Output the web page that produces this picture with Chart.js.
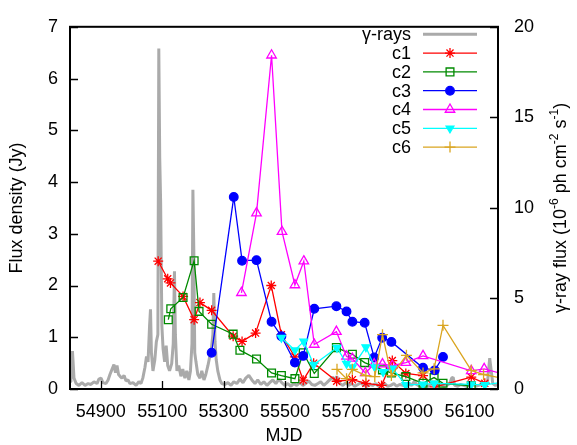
<!DOCTYPE html>
<html>
<head>
<meta charset="utf-8">
<script src="https://cdn.jsdelivr.net/npm/chart.js@4.4.0/dist/chart.umd.min.js"></script>
<style>
    html, body { margin: 0; padding: 0; background: #fff; }
    #wrap { width: 577px; height: 445px; }
</style>
</head>
<body>
<div id="wrap"><canvas id="lightCurve"></canvas></div>
<script>
// Fermi gamma-ray light curve, [MJD, flux in 1e-6 ph cm^-2 s^-1]
const gammaCurve = [
    [54800, 0.4], [54803, 0.5], [54808, 2.1], [54813, 0.6], [54820, 0.3], [54829, 0.2],
    [54839, 0.35], [54849, 0.2], [54859, 0.3], [54868, 0.25], [54878, 0.4], [54888, 0.3],
    [54894, 0.55], [54901, 0.6], [54907, 0.35], [54917, 0.3], [54924, 0.5], [54930, 0.8],
    [54937, 1.1], [54943, 1.35], [54948, 0.9], [54953, 1.3], [54958, 0.8], [54963, 0.7],
    [54969, 0.6], [54976, 0.75], [54982, 0.45], [54989, 0.5], [54995, 0.3], [55005, 0.35],
    [55015, 0.2], [55024, 0.4], [55031, 0.3], [55037, 0.6], [55044, 1.2], [55049, 1.8],
    [55054, 1.5], [55059, 3.5], [55062, 4.4], [55065, 2.0], [55070, 1.0], [55076, 1.6],
    [55081, 2.6], [55086, 3.0], [55089, 18.8], [55092, 12.8], [55095, 10.3], [55099, 3.5],
    [55103, 2.2], [55108, 1.5], [55113, 2.4], [55118, 1.3], [55124, 1.0], [55131, 1.4],
    [55136, 2.5], [55140, 6.5], [55143, 3.0], [55148, 1.0], [55154, 1.3], [55161, 0.7],
    [55167, 1.1], [55174, 0.6], [55180, 1.0], [55187, 0.5], [55192, 1.0], [55197, 2.5],
    [55200, 11.0], [55203, 7.6], [55206, 2.0], [55210, 1.5], [55216, 0.8], [55223, 0.6],
    [55229, 1.0], [55236, 0.5], [55242, 0.8], [55249, 1.3], [55255, 1.8], [55260, 2.2],
    [55265, 3.0], [55268, 5.3], [55272, 2.6], [55276, 1.6], [55281, 1.0], [55288, 0.5],
    [55294, 0.3], [55304, 0.25], [55314, 0.35], [55324, 0.2], [55333, 0.4], [55343, 0.3],
    [55353, 0.55], [55363, 0.35], [55372, 0.6], [55382, 0.75], [55392, 0.5], [55402, 0.3],
    [55411, 0.5], [55421, 0.25], [55431, 0.4], [55441, 0.2], [55450, 0.35], [55460, 0.5],
    [55470, 0.3], [55480, 0.55], [55489, 0.35], [55499, 0.2], [55509, 0.3], [55519, 0.15],
    [55528, 0.3], [55538, 0.2], [55548, 0.35], [55558, 0.2], [55567, 0.3], [55577, 0.45],
    [55587, 0.25], [55597, 0.2], [55607, 0.3], [55616, 0.4], [55626, 0.2], [55636, 0.35],
    [55645, 0.5], [55655, 0.65], [55662, 0.5], [55668, 0.7], [55678, 0.3], [55688, 0.2],
    [55698, 0.35], [55707, 0.2], [55717, 0.3], [55727, 0.15], [55737, 0.25], [55746, 0.35],
    [55756, 0.2], [55766, 0.15], [55776, 0.25], [55785, 0.2], [55795, 0.3], [55805, 0.15],
    [55815, 0.2], [55824, 0.3], [55834, 0.15], [55844, 0.2], [55854, 0.3], [55863, 0.15],
    [55873, 0.25], [55883, 0.2], [55893, 0.15], [55902, 0.3], [55912, 0.2], [55922, 0.45],
    [55928, 0.25], [55938, 0.15], [55948, 0.25], [55958, 0.2], [55967, 0.15], [55977, 0.3],
    [55987, 0.2], [55997, 0.15], [56006, 0.25], [56016, 0.15], [56026, 0.2], [56036, 0.3],
    [56042, 0.6], [56047, 0.65], [56052, 0.2], [56062, 0.15], [56071, 0.25], [56081, 0.2],
    [56091, 0.15], [56101, 0.2], [56110, 0.3], [56120, 0.15], [56130, 0.2], [56140, 0.25],
    [56150, 0.2], [56159, 0.4], [56166, 1.7], [56171, 1.0], [56176, 0.3], [56185, 0.2],
    [56193, 0.25]
];

// VLBI component flux densities (Jy)
const c1Mjd  = [55087, 55118, 55127, 55168, 55204, 55223, 55261, 55331, 55360, 55404, 55455, 55488, 55532, 55559, 55593, 55668, 55719, 55763, 55814, 55849, 55893, 55949, 55987, 56106, 56150];
const c1Flux = [2.47, 2.13, 2.05, 1.79, 1.34, 1.67, 1.52, 1.02, 0.92, 1.08, 2.0, 1.05, 0.62, 0.17, 0.5, 0.15, 0.18, 0.11, 0.07, 0.55, 0.30, 0.26, 0.04, 0.23, 0.11];

const c2Mjd  = [55120, 55128, 55168, 55204, 55220, 55261, 55331, 55353, 55407, 55456, 55488, 55532, 55559, 55595, 55667, 55719, 55759, 55817, 55846, 55893, 55949, 55985, 56014, 56106];
const c2Flux = [1.34, 1.55, 1.77, 2.48, 1.50, 1.25, 1.06, 0.75, 0.58, 0.31, 0.26, 0.20, 0.70, 0.30, 0.80, 0.67, 0.51, 0.37, 0.31, 0.24, 0.11, 0.22, 0.11, 0.06];

const c3Mjd  = [55261, 55333, 55360, 55407, 55456, 55488, 55532, 55559, 55595, 55667, 55700, 55719, 55759, 55790, 55816, 55846, 55949, 55987, 56014];
const c3Flux = [0.70, 3.71, 2.48, 2.49, 1.30, 1.02, 0.51, 0.64, 1.55, 1.60, 1.50, 1.30, 1.28, 0.61, 0.99, 0.91, 0.41, 0.36, 0.62];

const c4Mjd  = [55358, 55407, 55456, 55490, 55532, 55561, 55595, 55667, 55700, 55719, 55761, 55790, 55817, 55849, 55893, 55949, 56106, 56148, 56215];
const c4Flux = [1.86, 3.40, 6.45, 3.04, 2.01, 2.47, 0.86, 1.11, 0.63, 0.59, 0.31, 0.48, 0.48, 0.45, 0.51, 0.64, 0.35, 0.39, 0.28];

const c5Mjd  = [55488, 55532, 55561, 55593, 55669, 55700, 55719, 55763, 55792, 55819, 55849, 55893, 55949, 55985, 56106, 56150, 56215];
const c5Flux = [0.99, 0.75, 0.92, 0.47, 0.80, 0.49, 0.42, 0.81, 0.42, 0.33, 0.40, 0.08, 0.09, 0.11, 0.09, 0.08, 0.14];

const c6Mjd  = [55669, 55700, 55719, 55763, 55792, 55817, 55846, 55895, 55949, 55985, 56014, 56106, 56146, 56215];
const c6Flux = [0.38, 0.20, 0.38, 0.26, 0.24, 1.05, 0.26, 0.65, 0.31, 0.39, 1.23, 0.36, 0.28, 0.20];

const mjdTicks = [54900, 55100, 55300, 55500, 55700, 55900, 56100];
const mjdRange = [54800, 56193];

const FONT = '"Liberation Sans", Arial, Helvetica, sans-serif';

function pairs(xs, ys) {
    return xs.map((x, i) => ({ x: x, y: ys[i] }));
}

function component(label, xs, ys, color, style) {
    return Object.assign({
        label: label,
        data: pairs(xs, ys),
        yAxisID: 'y',
        borderColor: color,
        backgroundColor: 'rgba(0,0,0,0)',
        pointBorderColor: color,
        borderWidth: 1.3,
        pointBorderWidth: 1.3,
        tension: 0,
        clip: 0
    }, style);
}

const datasets = [
    {
        label: 'γ-rays',
        data: gammaCurve.map(p => ({ x: p[0], y: p[1] })),
        yAxisID: 'y2',
        borderColor: '#aaaaaa',
        borderWidth: 3,
        borderJoinStyle: 'bevel',
        pointRadius: 0,
        tension: 0,
        clip: 0,
        order: 7
    },
    component('c1', c1Mjd, c1Flux, '#ff0000', { pointStyle: 'star', pointRadius: 5, order: 6 }),
    component('c2', c2Mjd, c2Flux, '#008a00', { pointStyle: 'rect', pointRadius: 5.5, order: 5 }),
    component('c3', c3Mjd, c3Flux, '#0000ff', { pointStyle: 'circle', pointRadius: 4.3, pointBackgroundColor: '#0000ff', order: 4 }),
    component('c4', c4Mjd, c4Flux, '#ff00ff', { pointStyle: 'triangle', pointRadius: 5.5, order: 3 }),
    component('c5', c5Mjd, c5Flux, '#00ffff', { pointStyle: 'triangle', pointRotation: 180, pointRadius: 4.5, pointBackgroundColor: '#00ffff', order: 2 }),
    component('c6', c6Mjd, c6Flux, '#daa520', { pointStyle: 'cross', pointRadius: 5.5, order: 1 })
];

// border box plus inward tick marks, gnuplot style
const framePlugin = {
    id: 'frame',
    afterDatasetsDraw(chart) {
        const { ctx, chartArea: a, scales } = chart;
        ctx.save();
        ctx.strokeStyle = '#000';
        ctx.lineWidth = 1.3;
        ctx.beginPath();
        scales.x.ticks.forEach(t => {
            const px = Math.round(scales.x.getPixelForValue(t.value)) + 0.5;
            ctx.moveTo(px, a.bottom);
            ctx.lineTo(px, a.bottom - 8);
        });
        scales.y.ticks.forEach(t => {
            const py = Math.round(scales.y.getPixelForValue(t.value)) + 0.5;
            ctx.moveTo(a.left, py);
            ctx.lineTo(a.left + 8, py);
        });
        scales.y2.ticks.forEach(t => {
            const py = Math.round(scales.y2.getPixelForValue(t.value)) + 0.5;
            ctx.moveTo(a.right, py);
            ctx.lineTo(a.right - 8, py);
        });
        ctx.stroke();
        ctx.lineWidth = 2;
        ctx.strokeRect(a.left, a.top, a.right - a.left, a.bottom - a.top);
        ctx.restore();
    },
    afterDraw(chart) {
        drawLegend(chart);
        drawRightTitle(chart);
    }
};

function drawLegend(chart) {
    const ctx = chart.ctx;
    const textRight = 411, lineFrom = 423, lineTo = 477, top = 34.3, step = 18.8;
    ctx.save();
    ctx.font = '18px ' + FONT;
    ctx.textAlign = 'right';
    ctx.textBaseline = 'middle';
    chart.data.datasets.forEach((ds, i) => {
        const y = top + i * step;
        ctx.fillStyle = '#000';
        ctx.fillText(ds.label, textRight, y + 1);
        ctx.strokeStyle = ds.borderColor;
        ctx.lineWidth = ds.borderWidth;
        ctx.beginPath();
        ctx.moveTo(lineFrom, y);
        ctx.lineTo(lineTo, y);
        ctx.stroke();
        if (ds.pointRadius > 0) {
            // drawPoint fills and strokes with whatever styles are current
            ctx.fillStyle = ds.pointBackgroundColor || 'rgba(0,0,0,0)';
            ctx.strokeStyle = ds.borderColor;
            ctx.lineWidth = ds.pointBorderWidth;
            Chart.helpers.drawPoint(ctx, {
                pointStyle: ds.pointStyle,
                rotation: ds.pointRotation || 0,
                radius: ds.pointRadius,
                borderWidth: ds.pointBorderWidth
            }, (lineFrom + lineTo) / 2, y);
        }
    });
    ctx.restore();
}

// y2 title needs real superscripts, so it is set by hand
function drawRightTitle(chart) {
    const ctx = chart.ctx, a = chart.chartArea;
    const big = '18px ' + FONT, small = '12px ' + FONT;
    const parts = [['γ-ray flux (10', 0], ['-6', 1], [' ph cm', 0], ['-2', 1], [' s', 0], ['-1', 1], [')', 0]];
    ctx.save();
    let total = 0;
    const widths = parts.map(p => {
        ctx.font = p[1] ? small : big;
        const w = ctx.measureText(p[0]).width;
        total += w;
        return w;
    });
    ctx.translate(561, (a.top + a.bottom) / 2);
    ctx.rotate(-Math.PI / 2);
    ctx.textBaseline = 'middle';
    ctx.textAlign = 'left';
    ctx.fillStyle = '#000';
    let x = -total / 2;
    parts.forEach((p, i) => {
        ctx.font = p[1] ? small : big;
        ctx.fillText(p[0], x, p[1] ? -6 : 0);
        x += widths[i];
    });
    ctx.restore();
}

new Chart(document.getElementById('lightCurve'), {
    type: 'line',
    data: { datasets: datasets },
    options: {
        responsive: true,
        maintainAspectRatio: false,
        devicePixelRatio: 1,
        animation: false,
        events: [],
        layout: { padding: { top: 17, left: 0, right: 0, bottom: 0 } },
        plugins: { legend: { display: false }, tooltip: { enabled: false } },
        scales: {
            x: {
                type: 'linear',
                min: mjdRange[0],
                max: mjdRange[1],
                afterBuildTicks: s => { s.ticks = mjdTicks.map(v => ({ value: v })); },
                afterFit: s => { s.height = 56; },
                grid: { drawOnChartArea: false, drawTicks: false },
                border: { display: false },
                ticks: {
                    autoSkip: false,
                    maxRotation: 0,
                    padding: 12,
                    color: '#000',
                    font: { family: FONT, size: 18 },
                    callback: v => String(v)
                },
                title: {
                    display: true,
                    text: 'MJD',
                    color: '#000',
                    font: { family: FONT, size: 18 },
                    padding: { top: 0, bottom: -2 }
                }
            },
            y: {
                position: 'left',
                min: 0,
                max: 7,
                afterFit: s => { s.width = 70; },
                grid: { drawOnChartArea: false, drawTicks: false },
                border: { display: false },
                ticks: { stepSize: 1, padding: 12, color: '#000', font: { family: FONT, size: 18 } },
                title: {
                    display: true,
                    text: 'Flux density (Jy)',
                    color: '#000',
                    font: { family: FONT, size: 18 },
                    padding: { top: 6, bottom: 0 }
                }
            },
            y2: {
                position: 'right',
                min: 0,
                max: 20,
                afterFit: s => { s.width = 79; },
                grid: { drawOnChartArea: false, drawTicks: false },
                border: { display: false },
                ticks: { stepSize: 5, padding: 16, color: '#000', font: { family: FONT, size: 18 } }
            }
        }
    },
    plugins: [framePlugin]
});
</script>
</body>
</html>
